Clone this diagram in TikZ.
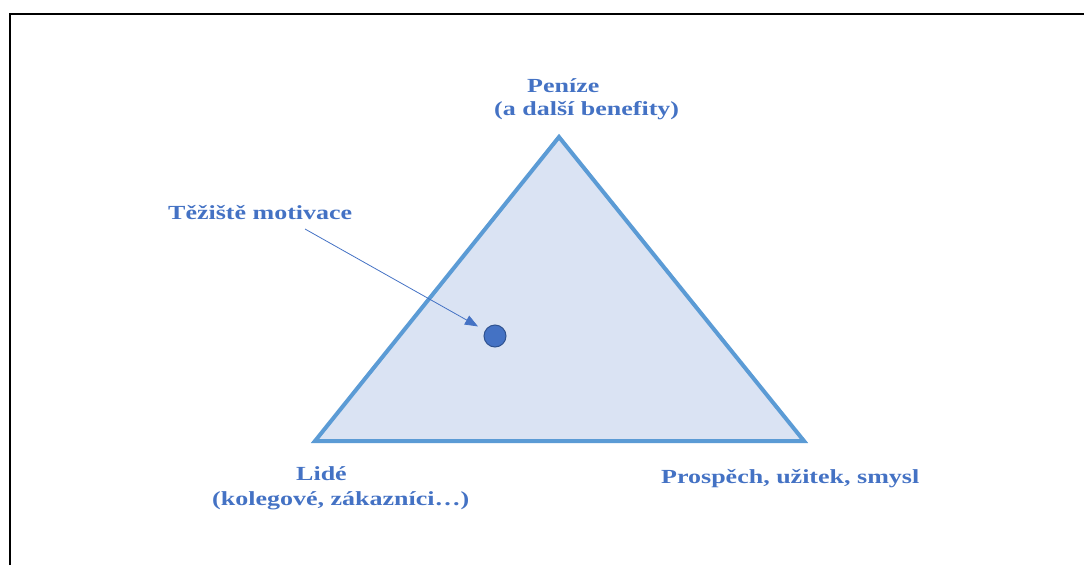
\documentclass[tikz,border=0pt]{standalone}
\usepackage{fontspec}
\usepackage{tikz}
\usetikzlibrary{arrows.meta}
\newfontfamily\lblfont[FakeStretch=1.3]{Liberation Serif}
\definecolor{lblblue}{HTML}{4472C4}
\definecolor{edgeblue}{HTML}{5B9BD5}
\definecolor{fillblue}{HTML}{DAE3F3}
\definecolor{dotrim}{HTML}{2F528F}

\begin{document}
\begin{tikzpicture}[x=1pt,y=-1pt]

      %label and marker styles
      \tikzset{
      lbl/.style={anchor=base west, inner sep=0pt, text=lblblue,
        font=\lblfont\bfseries\fontsize{20}{24}\selectfont},
      centre/.style={circle, fill=lblblue, draw=dotrim, line width=1pt,
        minimum width=22pt, inner sep=0pt},
      }

      \useasboundingbox (0,0) rectangle (1084,565);

      %frame
      \draw[line width=2pt] (9.5,565) |- (1084,14);

      %triangle
      \coordinate (apex) at (559,137);
      \coordinate (bl) at (315,441);
      \coordinate (br) at (804,441);
      \draw[edgeblue, fill=fillblue, line width=4pt] (apex) -- (bl) -- (br) -- cycle;

      %centre of motivation
      \node[centre] (dot) at (495,336) {};
      \coordinate (tail) at (305,229);
      \draw[lblblue, line width=0.8pt, -{Triangle[length=13pt,width=10pt]}, shorten >=8pt] (tail) -- (dot);

      %labels
      \node[lbl] (money) at (527,92) {Peníze};
      \node[lbl] (money2) at (494,115) {(a další benefity)};
      \node[lbl] (focus) at (168,219) {Těžiště motivace};
      \node[lbl] (people) at (296,480) {Lidé};
      \node[lbl] (people2) at (212,505) {(kolegové, zákazníci…)};
      \node[lbl] (benefit) at (661,483) {Prospěch, užitek, smysl};
    \end{tikzpicture}
\end{document}
